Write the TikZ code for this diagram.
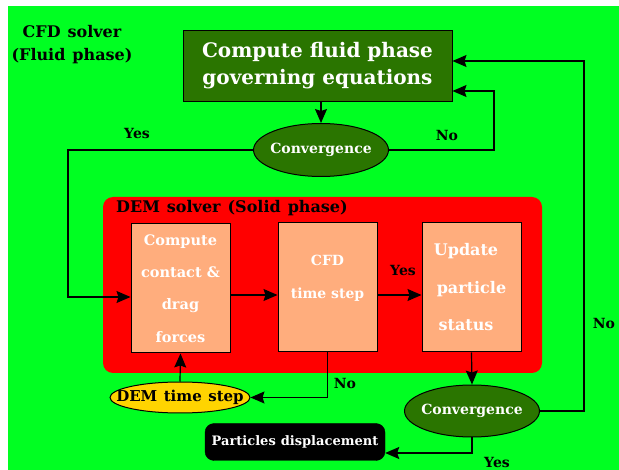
\documentclass[tikz,border=0pt]{standalone}
\usepackage{fontspec}
\setmainfont{DejaVu Serif}
\usetikzlibrary{arrows.meta,shapes.geometric}
\definecolor{bggreen}{HTML}{00FF22}
\definecolor{dkgreen}{HTML}{2A7500}
\definecolor{salmon}{HTML}{FFAD7D}
\definecolor{demyel}{HTML}{FFD400}
\newcommand\wideWS[1]{\spaceskip=#1\relax}
\begin{document}
\begin{tikzpicture}[x=1pt,y=-1pt,
  arr/.style={line width=1.2pt,-{Stealth[length=14pt,width=12pt,inset=2pt]}},
  topbox/.style={draw=black,line width=1pt,fill=dkgreen,text=white,font=\bfseries\fontsize{20}{27}\selectfont,minimum width=269pt,minimum height=71pt,align=center,inner sep=0pt},
  conv/.style={ellipse,draw=black,line width=1pt,fill=dkgreen,text=white,font=\bfseries\fontsize{14}{17}\selectfont,minimum width=135pt,minimum height=53pt,inner sep=0pt},
  demstep/.style={draw=black,line width=1pt,fill=salmon,text=white,font=\bfseries\fontsize{14}{32}\selectfont,minimum width=99pt,minimum height=129pt,align=center,inner sep=0pt},
  lbl/.style={font=\bfseries\fontsize{14}{16}\selectfont,text=black,inner sep=0pt}
]
\useasboundingbox (0,0) rectangle (619,470);
\fill[white] (0,0) rectangle (619,470);
\fill[bggreen] (8,6) rectangle (619,470);
\fill[red,rounded corners=10pt] (103,197) rectangle (542,373);

\node[lbl,font={\bfseries\fontsize{16}{23}\selectfont\wideWS{7pt}},align=center] (cfdlbl) at (72,45) {CFD solver\\(Fluid phase)};
\node[lbl,font={\bfseries\fontsize{16}{19}\selectfont\wideWS{7pt}},anchor=west] (demlbl) at (116,208) {DEM solver (Solid phase)};

\node[topbox] (top) at (317.5,66.5) {Compute fluid phase\\governing equations\\[-21pt]\mbox{}};
\node[conv] (conv1) at (321,150) {\makebox[0pt]{Convergence}};
\node[demstep,font={\bfseries\fontsize{14.5}{32.3}\selectfont}] (box1) at (180.5,288.5) {Compute\\contact \&\\drag\\forces};
\node[demstep,font={\bfseries\fontsize{14}{33}\selectfont}] (box2) at (327.5,287.5) {CFD\\time step\\[-12pt]\mbox{}};
\node[demstep,font={\bfseries\fontsize{16}{37.5}\selectfont}] (box3) at (471.5,287.5) {Update\hspace*{11pt}\\particle\hspace*{11pt}\\status\hspace*{11pt}};
\node[conv,minimum height=52pt] (conv2) at (472,411) {\makebox[0pt]{Convergence}};
\node[ellipse,draw=black,line width=1pt,fill=demyel,text=black,font={\bfseries\fontsize{15}{18}\selectfont\wideWS{6.5pt}},minimum width=140pt,minimum height=31pt,inner sep=0pt] (dem) at (180,397.5) {\makebox[0pt]{DEM time step}};
\node[draw=black,fill=black,text=white,rounded corners=9pt,font={\bfseries\fontsize{13}{17}\selectfont\wideWS{5pt}},minimum width=180pt,minimum height=37pt,inner sep=0pt] (part) at (295,442) {Particles displacement};

\coordinate (noA) at (494,91);
\coordinate (yesA) at (68,297);
\coordinate (noB) at (584,61);
\coordinate (hA) at (0,295);
\coordinate (hB) at (0,453);

\draw[arr] (conv1.north |- top.south) -- (conv1.north);
\draw[arr] (conv1.east) -| (noA) -- (noA -| top.east);
\draw[arr] (conv1.west) -| (yesA) -- (yesA -| box1.west);
\draw[arr] (box1.east |- hA) -- (box2.west |- hA);
\draw[arr] (box2.east |- hA) -- (box3.west |- hA);
\draw[arr] (box3.south) -- (conv2.north);
\draw[arr] (box2.south) |- (dem.east);
\draw[arr] (dem.north) -- (box1.south);
\draw[arr] (conv2.south) |- (part.east |- hB);
\draw[arr] (conv2.east) -| (noB) -- (noB -| top.east);

\node[lbl] (l1) at (137,133) {Yes};
\node[lbl] (l2) at (447,135) {No};
\node[lbl] (l3) at (403,270) {Yes};
\node[lbl] (l4) at (345,383) {No};
\node[lbl] (l5) at (497,462) {Yes};
\node[lbl] (l6) at (604,323) {No};
\end{tikzpicture}
\end{document}
